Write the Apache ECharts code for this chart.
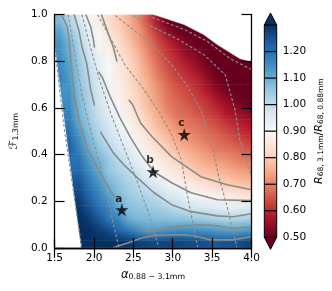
<!DOCTYPE html>
<html><head><meta charset="utf-8">
<script src="https://cdn.jsdelivr.net/npm/echarts@6/dist/echarts.min.js"></script>
<style>html,body{margin:0;padding:0;background:#fff}#c{width:332px;height:291px}</style>
</head><body><div id="c"></div>
<script>
// ---------- data ----------
const xCenters = [1.5625,1.6875,1.8125,1.9375,2.0625,2.1875,2.3125,2.4375,2.5625,2.6875,2.8125,2.9375,3.0625,3.1875,3.3125,3.4375,3.5625,3.6875,3.8125,3.9375];
const yCenters = [0.025,0.075,0.125,0.175,0.225,0.275,0.325,0.375,0.425,0.475,0.525,0.575,0.625,0.675,0.725,0.775,0.825,0.875,0.925,0.975];
// R68,3.1mm / R68,0.88mm, rows from bottom (F=0.025) to top (F=0.975); null = no model
const ratioGrid = [
 [null,null,null,1.34,1.33,1.32,1.30,1.29,1.28,1.27,1.27,1.27,1.27,1.26,1.26,1.25,1.24,1.25,1.25,1.27],
 [null,null,1.33,1.32,1.28,1.26,1.22,1.19,1.15,1.12,1.13,1.14,1.15,1.15,1.15,1.14,1.13,1.12,1.12,1.13],
 [null,null,1.32,1.28,1.24,1.19,1.16,1.10,1.08,1.08,1.07,1.07,1.06,1.06,1.05,1.04,1.03,1.02,1.02,1.03],
 [null,null,1.29,1.25,1.20,1.16,1.11,1.07,1.06,1.05,1.04,1.02,1.00,0.98,0.97,0.96,0.95,0.94,0.94,0.95],
 [null,null,1.27,1.22,1.17,1.12,1.08,1.05,1.03,1.02,1.00,0.97,0.95,0.92,0.91,0.89,0.88,0.87,0.86,0.85],
 [null,null,1.25,1.19,1.14,1.09,1.06,1.03,1.01,0.98,0.95,0.92,0.89,0.87,0.85,0.83,0.81,0.80,0.79,0.78],
 [null,null,1.22,1.16,1.11,1.06,1.03,1.01,0.98,0.93,0.89,0.87,0.85,0.82,0.79,0.78,0.77,0.76,0.74,0.73],
 [null,null,1.20,1.13,1.09,1.05,1.01,0.98,0.94,0.90,0.87,0.84,0.81,0.78,0.76,0.74,0.73,0.72,0.70,0.69],
 [null,1.23,1.17,1.10,1.06,1.02,0.98,0.95,0.91,0.87,0.83,0.80,0.77,0.75,0.73,0.71,0.69,0.68,0.67,0.65],
 [null,1.21,1.14,1.08,1.03,0.99,0.95,0.92,0.88,0.84,0.80,0.77,0.74,0.72,0.70,0.68,0.67,0.65,0.63,0.61],
 [null,1.19,1.11,1.06,1.01,0.97,0.93,0.89,0.85,0.81,0.77,0.74,0.71,0.69,0.68,0.66,0.64,0.62,0.60,0.58],
 [null,1.17,1.09,1.04,0.99,0.95,0.91,0.87,0.83,0.79,0.75,0.71,0.68,0.67,0.65,0.63,0.61,0.58,0.56,0.54],
 [null,1.15,1.08,1.03,0.98,0.93,0.89,0.85,0.81,0.77,0.73,0.69,0.67,0.65,0.63,0.61,0.58,0.55,0.52,0.50],
 [null,1.14,1.07,1.02,0.97,0.92,0.88,0.84,0.80,0.76,0.72,0.68,0.65,0.63,0.61,0.58,0.54,0.51,0.48,0.46],
 [1.17,1.13,1.06,1.01,0.96,0.91,0.87,0.83,0.79,0.75,0.70,0.66,0.63,0.61,0.59,0.55,0.51,0.47,0.44,0.42],
 [1.16,1.12,1.05,1.00,0.94,0.90,0.86,0.82,0.78,0.73,0.68,0.64,0.61,0.59,0.55,0.52,0.48,0.44,0.40,0.40],
 [1.15,1.10,1.04,0.98,0.93,0.89,0.85,0.81,0.77,0.71,0.66,0.62,0.59,0.55,0.53,0.49,0.45,0.40,null,null],
 [1.14,1.09,1.02,0.96,0.91,0.87,0.83,0.79,0.74,0.69,0.64,0.60,0.56,0.52,0.49,0.46,null,null,null,null],
 [1.12,1.06,1.00,0.94,0.89,0.85,0.81,0.77,0.73,0.67,0.61,0.55,0.51,0.48,0.46,null,null,null,null,null],
 [1.08,1.02,0.97,0.91,0.87,0.83,0.80,0.76,0.71,0.64,0.56,0.50,null,null,null,null,null,null,null,null]
];
// edges of the region without model values
const emptyLeftEdge = [[1.5,0.863],[1.636,0.506],[1.834,0.0]];
const emptyTopEdge = [[2.762,1.0],[3.146,0.957],[3.394,0.914],[3.567,0.871],[3.851,0.811],[4.0,0.798]];

// solid contours of the ratio (null = gap under inline label)
const contour080 = [[2.094,1.0],[2.181,0.918],[2.243,0.863],[2.292,0.798],null,[2.441,0.635],[2.490,0.614],[2.589,0.536],[2.738,0.476],[2.985,0.391],[3.356,0.305],[3.691,0.270],[4.0,0.249]];
const contour090 = [[1.896,1.0],[1.958,0.948],[1.995,0.888],[2.007,0.858],null,[2.057,0.755],[2.106,0.730],[2.205,0.648],[2.329,0.558],[2.465,0.472],[2.614,0.391],[2.762,0.326],[2.985,0.279],[3.233,0.236],[3.567,0.206],[4.0,0.202]];
const contour100 = [[1.748,1.0],[1.809,0.931],[1.847,0.863],[1.908,0.790],[1.958,0.678],[2.007,0.609],null,[2.082,0.498],[2.119,0.476],[2.243,0.408],[2.391,0.352],[2.577,0.292],[2.762,0.236],[2.985,0.185],[3.233,0.155],[3.567,0.137],[3.765,0.133],[4.0,0.146]];
const contour110 = [[1.587,1.0],[1.661,0.948],[1.686,0.888],[1.710,0.790],[1.748,0.657],[1.822,0.528],[1.921,0.421],[2.069,0.326],[2.218,0.240],[2.267,0.215],null,[2.564,0.082],[2.676,0.073],[2.861,0.082],[3.109,0.094],[3.356,0.099],[3.567,0.094],[3.765,0.082],[4.0,0.090]];
const contour120 = [[2.243,0.0],[2.428,0.021],[2.614,0.043],[2.750,0.052],[3.072,0.056],[3.270,0.052],[3.480,0.034],[3.765,0.034],[4.0,0.047]];
// dashed contours
const dashed1 = [[1.5,0.871],[1.562,0.678],[1.624,0.506],[1.698,0.335],[1.772,0.163],[1.847,0.0]];
const dashed2 = [[1.673,1.0],[1.748,0.850],[1.847,0.657],[1.970,0.485],[2.094,0.335],[2.205,0.163],[2.317,0.0]];
const dashed3 = [[1.847,1.0],[1.946,0.871],[2.069,0.721],[2.218,0.571],[2.391,0.421],[2.564,0.270],[2.700,0.142],[2.824,0.0]];
const dashed4 = [[2.045,1.0],[2.218,0.893],[2.391,0.785],[2.614,0.687],[2.824,0.584],[2.985,0.485],[3.109,0.378],[3.196,0.206],[3.319,0.0]];
const dashed5 = [[2.267,0.996],[2.465,0.944],[2.738,0.871],[2.985,0.785],[3.171,0.700],[3.356,0.592],[3.480,0.464],[3.579,0.313],[3.691,0.176],[3.814,0.0]];
const dashed6 = [[2.490,0.996],[2.738,0.948],[3.072,0.893],[3.394,0.828],[3.666,0.742],[3.790,0.592],[3.851,0.464],[4.0,0.309]];
const dashed7 = [[2.738,0.987],[3.146,0.936],[3.443,0.884],[3.728,0.811],[4.0,0.764]];

const contourLabelText = ['0.90','0.80','1.00','1.10'];
const contourLabelAlpha = [2.032,2.379,2.045,2.428];
const contourLabelF = [0.807,0.687,0.554,0.116];

const starNames = ['a','b','c'];
const starAlpha = [2.354,2.750,3.146];
const starF = [0.163,0.326,0.485];

const cbarLevels = [0.5,0.6,0.7,0.8,0.9,1.0,1.1,1.2,1.3];

// ---------- styling / rendering helpers ----------
const RdBu = ['#67001f','#b2182b','#d6604d','#f4a582','#fddbc7','#f7f7f7','#d1e5f0','#92c5de','#4393c3','#2166ac','#053061'];
const FONT = 'DejaVu Sans';
const labelRot = [-76,-68,-72,-48];
const vMin = cbarLevels[0], vMax = cbarLevels[cbarLevels.length-1];

const RdBuRGB = RdBu.map(h=>[1,3,5].map(k=>parseInt(h.slice(k,k+2),16)));
function cmap(v){
  let t=(v-vMin)/(vMax-vMin); t=Math.max(0,Math.min(1,t))*(RdBuRGB.length-1);
  const k=Math.min(Math.floor(t),RdBuRGB.length-2), f=t-k, a=RdBuRGB[k], b=RdBuRGB[k+1];
  return [0,1,2].map(c=>a[c]+(b[c]-a[c])*f);
}
const rgb = c=>'rgb('+c.map(Math.round).join(',')+')';
// for shading only: empty cells take their nearest neighbour in the row (they are masked afterwards)
function fillRow(row){ return row.map((v,i)=>{ if(v!==null) return v;
  for(let d=1; d<row.length; d++){ if(i-d>=0&&row[i-d]!==null) return row[i-d]; if(i+d<row.length&&row[i+d]!==null) return row[i+d]; } return 0.9; }); }
const filled = ratioGrid.map(fillRow);
const nodeX = [1.5, ...xCenters, 4.0];
const nodeY = [0.0, ...yCenters, 1.0];
const clampI = (k,n)=>Math.max(0,Math.min(n-1,k));
const nodeCols = nodeY.map((_,jj)=>nodeX.map((__,ii)=>cmap(filled[clampI(jj-1,yCenters.length)][clampI(ii-1,xCenters.length)])));

function segs(arr){ const out=[[]]; arr.forEach(p=>{ if(p===null) out.push([]); else out[out.length-1].push(p);}); return out.filter(s=>s.length>1); }

const lineSeries = [];
[contour080,contour090,contour100,contour110,contour120].forEach(c=>segs(c).forEach(s=>lineSeries.push({
  type:'line', data:s, symbol:'none', silent:true, z:3, clip:true,
  lineStyle:{color:'#8a8a8a', width:1.6}
})));
[dashed1,dashed2,dashed3,dashed4,dashed5,dashed6,dashed7].forEach(s=>lineSeries.push({
  type:'line', data:s, symbol:'none', silent:true, z:3, clip:true,
  lineStyle:{color:'#8f8f8f', width:1.1, type:[3,2]}
}));

const starPath = 'path://M50,0 L61.2,34.5 L97.6,34.5 L68.2,55.9 L79.4,90.5 L50,69.1 L20.6,90.5 L31.8,55.9 L2.4,34.5 L38.8,34.5 Z';

const option = {
  animation:false,
  textStyle:{fontFamily:FONT},
  grid:[
    {left:50, top:14.5, width:201.5, height:233.3},
    {left:264.3, top:25, width:12.4, height:212.3}
  ],
  xAxis:[
    {type:'value', gridIndex:0, min:1.5, max:4.0, interval:0.5, position:'bottom', z:10,
     axisLine:{lineStyle:{color:'#000', width:1.3}}, axisTick:{inside:true, length:10, lineStyle:{color:'#000', width:1.2}},
     axisLabel:{color:'#000', fontSize:10.5, margin:5, formatter:v=>v.toFixed(1), fontFamily:FONT},
     splitLine:{show:false},
     name:'{g|α}{s|0.88 − 3.1mm}', nameLocation:'middle', nameGap:19,
     nameTextStyle:{rich:{g:{fontSize:11.5, fontStyle:'italic', fontFamily:FONT, color:'#000', lineHeight:14, verticalAlign:'bottom'},
                         s:{fontSize:7.8, fontFamily:FONT, color:'#000', lineHeight:9, verticalAlign:'bottom'}}}},
    {type:'value', gridIndex:0, min:1.5, max:4.0, interval:0.5, position:'top', z:10,
     axisLine:{lineStyle:{color:'#000', width:1.3}}, axisTick:{inside:true, length:10, lineStyle:{color:'#000', width:1.2}},
     axisLabel:{show:false}, splitLine:{show:false}},
    {type:'value', gridIndex:1, min:0, max:1, show:false}
  ],
  yAxis:[
    {type:'value', gridIndex:0, min:0, max:1.0, interval:0.2, position:'left', z:10,
     axisLine:{lineStyle:{color:'#000', width:1.3}}, axisTick:{inside:true, length:10, lineStyle:{color:'#000', width:1.2}},
     axisLabel:{color:'#000', fontSize:10.5, margin:7, formatter:v=>v.toFixed(1), fontFamily:FONT},
     splitLine:{show:false},
     name:'{g|ℱ}{s|1.3mm}', nameLocation:'middle', nameGap:28, nameRotate:90,
     nameTextStyle:{rich:{g:{fontSize:11.5, fontStyle:'italic', fontFamily:FONT, color:'#000', lineHeight:14, verticalAlign:'bottom'},
                         s:{fontSize:7.8, fontFamily:FONT, color:'#000', lineHeight:9, verticalAlign:'bottom'}}}},
    {type:'value', gridIndex:0, min:0, max:1.0, interval:0.2, position:'right', z:10,
     axisLine:{lineStyle:{color:'#000', width:1.3}}, axisTick:{inside:true, length:10, lineStyle:{color:'#000', width:1.2}},
     axisLabel:{show:false}, splitLine:{show:false}},
    {type:'value', gridIndex:1, min:vMin, max:vMax, interval:0.1, position:'right',
     axisLine:{show:false}, axisTick:{show:false}, splitLine:{show:false},
     axisLabel:{color:'#000', fontSize:10.5, margin:6, fontFamily:FONT, formatter:v=> v>vMax-0.05 ? '' : v.toFixed(2)},
     name:'{r|R}{s|68, 3.1mm}{n|/}{r|R}{s|68, 0.88mm}', nameLocation:'middle', nameGap:34, nameRotate:90,
     nameTextStyle:{rich:{r:{fontSize:11, fontStyle:'italic', fontFamily:FONT, color:'#000', lineHeight:14, verticalAlign:'bottom'},
                         n:{fontSize:11, fontFamily:FONT, color:'#000', lineHeight:14, verticalAlign:'bottom'},
                         s:{fontSize:7.5, fontFamily:FONT, color:'#000', lineHeight:9, verticalAlign:'bottom'}}}}
  ],
  series:[
    // ratio map: one horizontal band between consecutive row centres, shaded between the read cell values
    {type:'custom', xAxisIndex:0, yAxisIndex:0, clip:true, z:1, silent:true,
     data:nodeY.slice(0,-1).map((y,k)=>[k, y]),
     encode:{x:-1, y:1},
     renderItem:function(params, api){
       const jj=api.value(0), ya=nodeY[jj], yb=nodeY[jj+1];
       const pL=api.coord([nodeX[0], ya]), pR=api.coord([nodeX[nodeX.length-1], yb]);
       const x0=pL[0], x1=pR[0], yBot=pL[1], yTop=pR[1], H=yBot-yTop;
       const K=Math.max(1, Math.ceil(H/1.5));
       const offs=nodeX.map(x=>(api.coord([x,ya])[0]-x0)/(x1-x0));
       const ch=[];
       for(let s=0;s<K;s++){
         const t=(s+0.5)/K;
         const stops=nodeX.map((x,ii)=>{ const a=nodeCols[jj][ii], b=nodeCols[jj+1][ii];
           return {offset:Math.max(0,Math.min(1,offs[ii])), color:rgb(a.map((c,q)=>c+(b[q]-c)*t))}; });
         const y0=yBot-s*H/K, y1=yBot-(s+1)*H/K;
         ch.push({type:'rect', shape:{x:x0, y:y1-0.35, width:x1-x0, height:(y0-y1)+0.7},
                  style:{fill:{type:'linear', x:x0, y:0, x2:x1, y2:0, global:true, colorStops:stops}}});
       }
       return {type:'group', children:ch};
     }},
    // empty (no-model) regions, drawn slightly past the frame so no coloured fringe remains
    {type:'custom', xAxisIndex:0, yAxisIndex:0, clip:false, z:2, silent:true,
     data:[[0],[1]], encode:{x:-1, y:-1},
     renderItem:function(params, api){
       let pts;
       if(params.dataIndex===0){
         pts=emptyLeftEdge.map(p=>api.coord(p));
         const f=pts[0], l=pts[pts.length-1];
         pts=pts.concat([[l[0],l[1]+1],[f[0]-2,l[1]+1],[f[0]-2,f[1]]]);
       } else {
         pts=emptyTopEdge.map(p=>api.coord(p));
         const f=pts[0], l=pts[pts.length-1];
         pts=pts.concat([[l[0]+2,l[1]],[l[0]+2,f[1]-2],[f[0],f[1]-2]]);
       }
       return {type:'polygon', shape:{points:pts}, style:{fill:'#fff', stroke:'#fff', lineWidth:0.6}};
     }},
    ...lineSeries,
    {type:'scatter', xAxisIndex:0, yAxisIndex:0, z:5, silent:true, symbolSize:1, itemStyle:{opacity:0},
     data:contourLabelText.map((t,i)=>({value:[contourLabelAlpha[i], contourLabelF[i]], name:t,
        label:{show:true, position:'inside', rotate:labelRot[i], formatter:t, color:'#000', fontSize:10, fontFamily:FONT}}))},
    {type:'scatter', xAxisIndex:0, yAxisIndex:0, z:6, silent:true, symbol:starPath, symbolSize:13,
     itemStyle:{color:'#000'},
     data:starNames.map((n,i)=>({value:[starAlpha[i], starF[i]], name:n})),
     label:{show:true, formatter:'{b}', position:'top', distance:0, offset:[-3,1], color:'#000', fontWeight:'bold', fontSize:10.5, fontFamily:FONT}},
    {type:'custom', xAxisIndex:2, yAxisIndex:2, data:[[0.5, 0.9]], clip:false, silent:true, z:2,
     renderItem:function(params, api){
       const tl=api.coord([0,vMax]), br=api.coord([1,vMin]);
       const x0=tl[0], x1=br[0], yT=tl[1], yB=br[1], mid=(x0+x1)/2, tri=12;
       const stops=RdBu.map((c,k)=>({offset:1-k/(RdBu.length-1), color:c}));
       stops.reverse();
       const ch=[];
       ch.push({type:'rect', shape:{x:x0,y:yT,width:x1-x0,height:yB-yT},
                style:{fill:{type:'linear',x:0,y:0,x2:0,y2:1,colorStops:stops,global:false}}});
       ch.push({type:'polygon', shape:{points:[[x0,yT],[mid,yT-tri],[x1,yT]]}, style:{fill:RdBu[RdBu.length-1]}});
       ch.push({type:'polygon', shape:{points:[[x0,yB],[mid,yB+tri],[x1,yB]]}, style:{fill:RdBu[0]}});
       cbarLevels.forEach(v=>{ const p=api.coord([0,v]);
         ch.push({type:'line', shape:{x1:x0,y1:p[1],x2:x1,y2:p[1]}, style:{stroke:'#000', lineWidth:1.2}}); });
       ch.push({type:'polygon', shape:{points:[[x0,yT],[mid,yT-tri],[x1,yT],[x1,yB],[mid,yB+tri],[x0,yB]]},
                style:{fill:null, stroke:'#000', lineWidth:1}});
       return {type:'group', children:ch};
     }}
  ]
};
const chart = echarts.init(document.getElementById('c'), null, {renderer:'canvas'});
chart.setOption(option);
</script>
</body></html>
